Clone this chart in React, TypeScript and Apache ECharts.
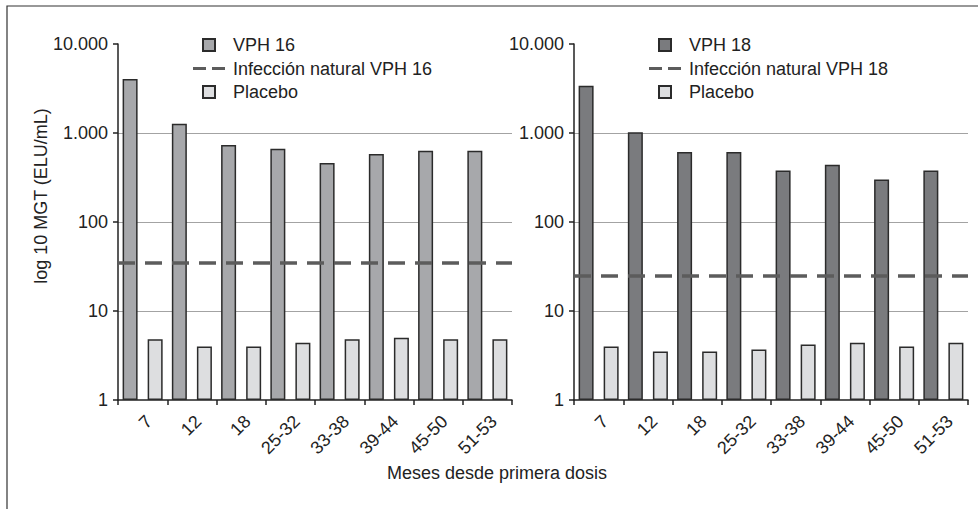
import React, { useEffect, useRef } from "react";
import * as echarts from "echarts";

const categories = ["7", "12", "18", "25-32", "33-38", "39-44", "45-50", "51-53"];
const vph16 = [4050, 1270, 735, 665, 460, 580, 630, 630];
const placebo16 = [4.8, 4.0, 4.0, 4.4, 4.8, 5.0, 4.8, 4.8];
const natural16 = 35;
const vph18 = [3400, 1020, 610, 610, 380, 440, 300, 380];
const placebo18 = [4.0, 3.5, 3.5, 3.7, 4.2, 4.4, 4.0, 4.4];
const natural18 = 25;
const yMin = 1;
const yMax = 10000;

const FONT = "'Liberation Sans', Arial, Helvetica, sans-serif";
const TXT = "#222";
const SQUARE = "path://M0,0h12v12h-12z";
const DASH = "path://M0,0h13v3h-13zM19,0h13v3h-13z";

function fmt(v: number) {
  return String(Math.round(v)).replace(/\B(?=(\d{3})+(?!\d))/g, ".");
}

function panel(i: number, left: number, vphName: string, natName: string, vph: number[], plac: number[], nat: number, vphColor: string) {
  const grid = { left, top: 44, width: 394, height: 356 };
  const xAxis = {
    type: "category",
    gridIndex: i,
    data: categories,
    axisLine: { lineStyle: { color: TXT, width: 1.5 } },
    axisTick: { show: true, length: 5, lineStyle: { color: TXT, width: 1.5 } },
    axisLabel: { rotate: 45, interval: 0, margin: 12, fontSize: 18, lineHeight: 18, color: TXT, fontFamily: FONT, verticalAlign: "top" },
  };
  const yAxis = {
    type: "log",
    logBase: 10,
    gridIndex: i,
    min: yMin,
    max: yMax,
    axisLine: { show: true, lineStyle: { color: TXT, width: 1.5 } },
    axisTick: { show: true, length: 5, lineStyle: { color: TXT, width: 1.5 } },
    axisLabel: { margin: 10, fontSize: 18, color: TXT, fontFamily: FONT, formatter: (v: number) => fmt(v) },
    splitLine: { show: true, showMaxLine: false, showMinLine: false, lineStyle: { color: "#a3a3a3", width: 1.2 } },
    minorTick: { show: false },
  };
  const series = [
    {
      type: "bar",
      name: vphName,
      xAxisIndex: i,
      yAxisIndex: i,
      data: vph,
      barWidth: 15,
      barGap: "67%",
      itemStyle: { color: vphColor, borderColor: "#2b2b2b", borderWidth: 1.5 },
    },
    {
      type: "bar",
      name: "Placebo",
      xAxisIndex: i,
      yAxisIndex: i,
      data: plac,
      barWidth: 15,
      barGap: "67%",
      itemStyle: { color: "#dddee0", borderColor: "#2b2b2b", borderWidth: 1.5 },
    },
    {
      type: "line",
      name: natName,
      xAxisIndex: i,
      yAxisIndex: i,
      data: [],
      color: "#5c5c5c",
      markLine: {
        silent: true,
        symbol: ["none", "none"],
        label: { show: false },
        lineStyle: { color: "#5c5c5c", width: 3.5, type: [17, 10] },
        data: [{ yAxis: nat }],
      },
    },
  ];
  const legend = {
    orient: "vertical",
    left: left + 75,
    top: 36,
    padding: 0,
    itemWidth: 32,
    itemHeight: 12,
    itemGap: 5.5,
    symbolKeepAspect: true,
    selectedMode: false,
    textStyle: { fontSize: 18, lineHeight: 18, color: TXT, fontFamily: FONT, padding: [0, 0, 0, 3] },
    data: [
      { name: vphName, icon: SQUARE },
      { name: natName, icon: DASH, itemStyle: { borderWidth: 0, color: "#5c5c5c" } },
      { name: "Placebo", icon: SQUARE },
    ],
  };
  return { grid, xAxis, yAxis, series, legend };
}

export default function App() {
  const ref = useRef<HTMLDivElement>(null);
  useEffect(() => {
    if (!ref.current) return;
    const chart = echarts.init(ref.current, null, { renderer: "svg" });
    const a = panel(0, 118, "VPH 16", "Infección natural VPH 16", vph16, placebo16, natural16, "#a7a8ab");
    const b = panel(1, 574, "VPH 18", "Infección natural VPH 18", vph18, placebo18, natural18, "#7a7b7e");
    chart.setOption({
      animation: false,
      backgroundColor: "#ffffff",
      textStyle: { fontFamily: FONT },
      grid: [a.grid, b.grid],
      xAxis: [a.xAxis, b.xAxis],
      yAxis: [a.yAxis, b.yAxis],
      legend: [a.legend, b.legend],
      series: [...a.series, ...b.series],
      graphic: [
        {
          type: "rect",
          shape: { x: 7, y: 6, width: 1100, height: 700 },
          style: { fill: "none", stroke: "#333", lineWidth: 1.2 },
          silent: true,
        },
        {
          type: "text",
          x: 41,
          y: 196,
          rotation: Math.PI / 2,
          style: { text: "log 10 MGT (ELU/mL)", fontSize: 18, fill: TXT, fontFamily: FONT, align: "center", verticalAlign: "middle" },
        },
        {
          type: "text",
          x: 497,
          y: 473,
          style: { text: "Meses desde primera dosis", fontSize: 18, fill: TXT, fontFamily: FONT, align: "center", verticalAlign: "middle" },
        },
      ],
    });
    return () => chart.dispose();
  }, []);
  return <div ref={ref} style={{ position: "absolute", left: 0, top: 0, width: 978, height: 509 }} />;
}
